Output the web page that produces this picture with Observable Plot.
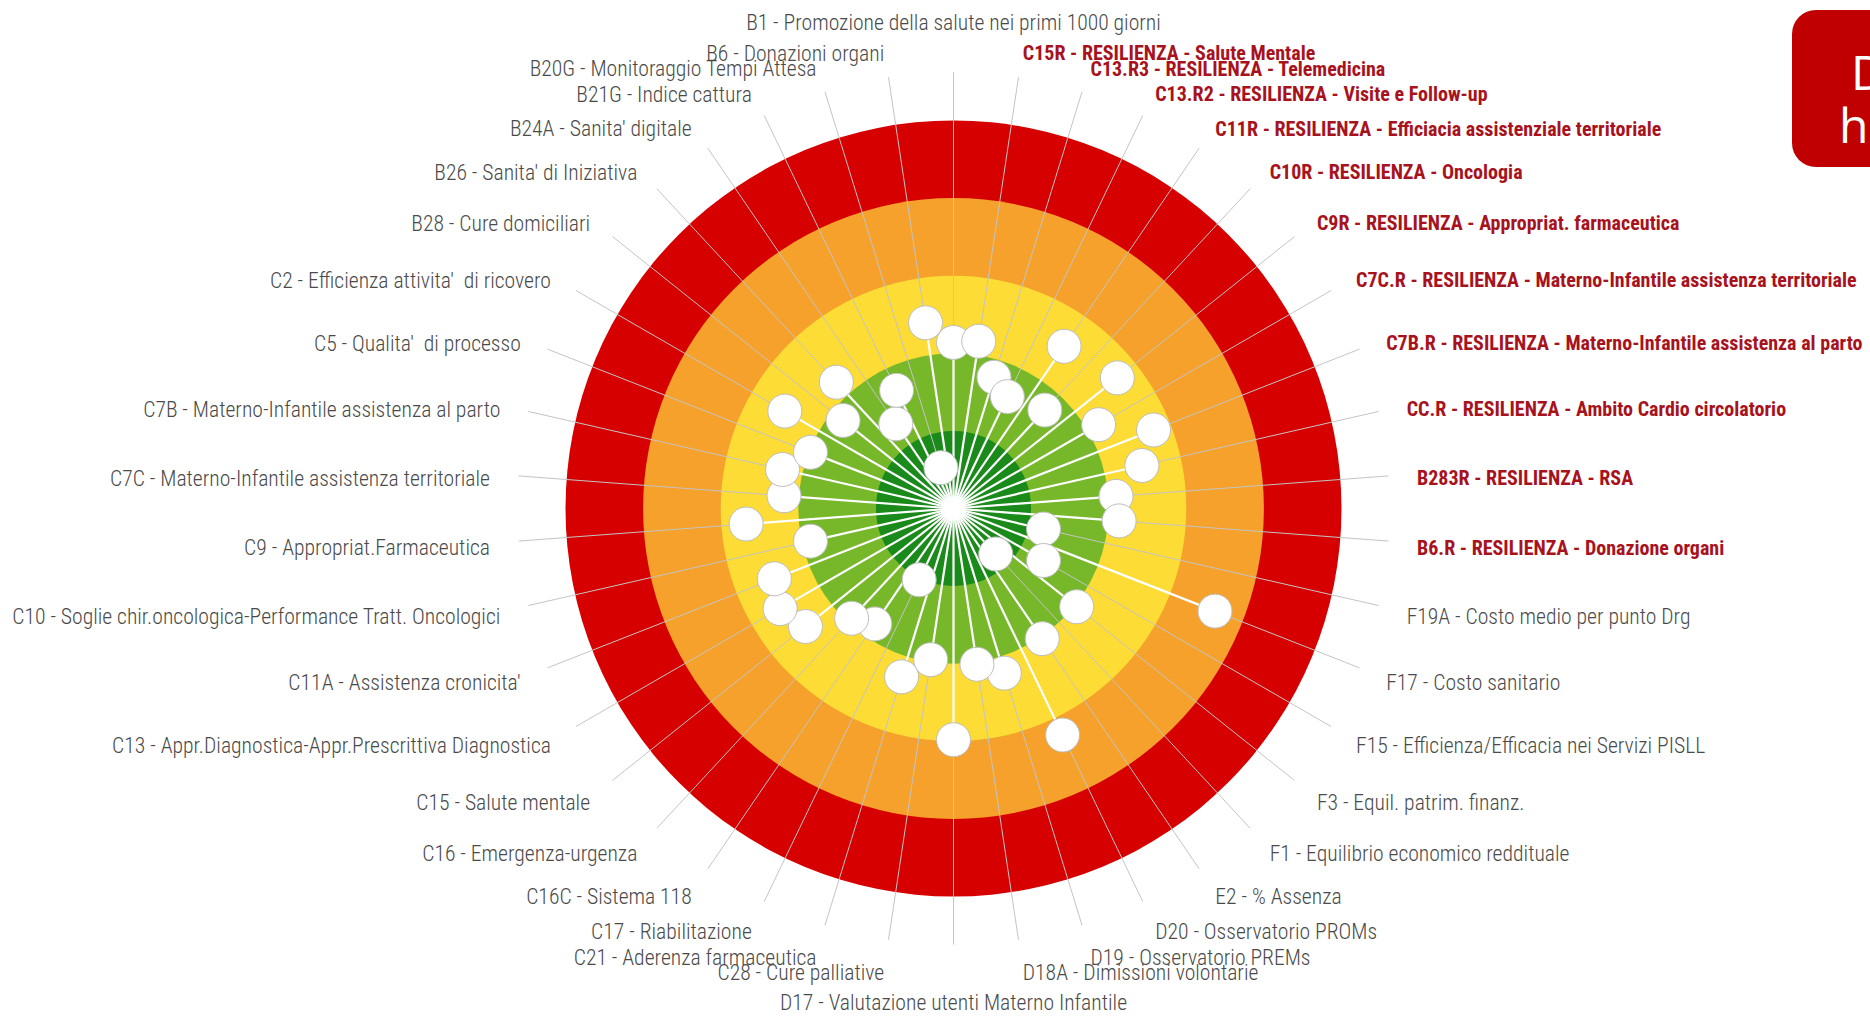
<!DOCTYPE html>
<html><head><meta charset="utf-8">
<script src="https://cdn.jsdelivr.net/npm/d3@7"></script>
<script src="https://cdn.jsdelivr.net/npm/@observablehq/plot@0.6"></script>
<style>
html,body{margin:0;padding:0;background:#fff;overflow:hidden;width:1870px;height:1017px;}
#chart{position:absolute;left:0;top:0;}
.box{position:absolute;left:1792px;top:10px;width:200px;height:157px;background:#c00000;border-radius:24px;color:#fff;font-family:"Open Sans",sans-serif;font-size:48px;line-height:52px;}
.box .l1{position:absolute;left:59px;top:36px;}
.box .l2{position:absolute;left:47px;top:89px;}
</style></head><body>
<div id="chart"></div>
<div class="box"><span class="l1">D</span><span class="l2">he</span></div>
<script>
// Indicators, clockwise from the top
const indicators = [
  "B1 - Promozione della salute nei primi 1000 giorni",
  "C15R - RESILIENZA - Salute Mentale",
  "C13.R3 - RESILIENZA - Telemedicina",
  "C13.R2 - RESILIENZA - Visite e Follow-up",
  "C11R - RESILIENZA - Efficiacia assistenziale territoriale",
  "C10R - RESILIENZA - Oncologia",
  "C9R - RESILIENZA - Appropriat. farmaceutica",
  "C7C.R - RESILIENZA - Materno-Infantile assistenza territoriale",
  "C7B.R - RESILIENZA - Materno-Infantile assistenza al parto",
  "CC.R - RESILIENZA - Ambito Cardio circolatorio",
  "B283R - RESILIENZA - RSA",
  "B6.R - RESILIENZA - Donazione organi",
  "F19A - Costo medio per punto Drg",
  "F17 - Costo sanitario",
  "F15 - Efficienza/Efficacia nei Servizi PISLL",
  "F3 - Equil. patrim. finanz.",
  "F1 - Equilibrio economico reddituale",
  "E2 - % Assenza",
  "D20 - Osservatorio PROMs",
  "D19 - Osservatorio PREMs",
  "D18A - Dimissioni volontarie",
  "D17 - Valutazione utenti Materno Infantile",
  "C28 - Cure palliative",
  "C21 - Aderenza farmaceutica",
  "C17 - Riabilitazione",
  "C16C - Sistema 118",
  "C16 - Emergenza-urgenza",
  "C15 - Salute mentale",
  "C13 - Appr.Diagnostica-Appr.Prescrittiva Diagnostica",
  "C11A - Assistenza cronicita'",
  "C10 - Soglie chir.oncologica-Performance Tratt. Oncologici",
  "C9 - Appropriat.Farmaceutica",
  "C7C - Materno-Infantile assistenza territoriale",
  "C7B - Materno-Infantile assistenza al parto",
  "C5 - Qualita'  di processo",
  "C2 - Efficienza attivita'  di ricovero",
  "B28 - Cure domiciliari",
  "B26 - Sanita' di Iniziativa",
  "B24A - Sanita' digitale",
  "B21G - Indice cattura",
  "B20G - Monitoraggio Tempi Attesa",
  "B6 - Donazioni organi"
];
// Scores 0 (outer edge, worst) .. 5 (centre, best)
const scores = [2.86, 2.82, 3.23, 3.40, 2.47, 3.27, 2.30, 2.84, 2.23, 2.51, 2.90, 2.86, 3.81, 1.38, 3.66, 2.97, 4.20, 2.97, 1.76, 2.78, 2.97, 2.02, 3.03, 2.73, 3.98, 3.20, 3.07, 2.56, 2.42, 2.52, 3.11, 2.32, 2.81, 2.74, 3.02, 2.49, 3.18, 2.78, 3.68, 3.31, 4.45, 2.58];
// Performance bands (lower bound of score) and their colours
const bandLower = [0, 1, 2, 3, 4];
const bandColors = ["#d60000", "#f5a12c", "#fcdc35", "#77b82a", "#1a8a1a"];

// pick a condensed font that is installed
const cands = ["Roboto Condensed", "DejaVu Sans Condensed", "Roboto"];
const cv = document.createElement("canvas").getContext("2d");
function avail(f){cv.font="40px monospace";const a=cv.measureText("abcdefghijklmnopqrstuvwxyz").width;cv.font=`40px "${f}", monospace`;const b=cv.measureText("abcdefghijklmnopqrstuvwxyz").width;return a!==b;}
const FONT = cands.find(avail) || "Roboto";
function fitSize(text, weight, target){cv.font=`${weight} 20px "${FONT}"`;return 20 * target / cv.measureText(text).width;}
const graySize = fitSize(indicators[0], "300", 415);
const redSize = fitSize(indicators[4], "bold", 446);

const N = indicators.length;
const W = 1870, H = 1017, CX = 953, CY = 508, OUTER = 388;
const U = OUTER / 5; // px per score unit
const SPOKE = 5.62, LABEL = 5.99;

const data = indicators.map((name, i) => {
  const a = i * 2 * Math.PI / N;
  const dist = 5 - scores[i];
  return {name, i, a, s: Math.sin(a), c: Math.cos(a), dist, red: /RESILIENZA/.test(name)};
});

const bands = bandLower.map((lo, k) => ({radius: 5 - lo, color: bandColors[k]}));

const labelMarks = [];
const groups = [
  {f: d => d.s > 0.01, anchor: "start", dy: 5},
  {f: d => d.s < -0.01, anchor: "end", dy: 5},
  {f: d => Math.abs(d.s) <= 0.01 && d.c > 0, anchor: "middle", dy: -21},
  {f: d => Math.abs(d.s) <= 0.01 && d.c < 0, anchor: "middle", dy: 30}
];
for (const g of groups) {
  for (const red of [false, true]) {
    labelMarks.push(Plot.text(data.filter(d => g.f(d) && d.red === red), {
      x: d => LABEL * d.s, y: d => LABEL * d.c, text: "name",
      textAnchor: g.anchor, dy: g.dy,
      fill: red ? "#a8121c" : "#4a4a4a",
      fontWeight: red ? "bold" : 300,
      fontSize: red ? redSize : graySize,
      fontFamily: FONT
    }));
  }
}

const chart = Plot.plot({
  width: W, height: H, margin: 0,
  x: {domain: [-CX / U, (W - CX) / U], axis: null},
  y: {domain: [-(H - CY) / U, CY / U], axis: null},
  r: {type: "linear", domain: [0, 5], range: [0, OUTER]},
  marks: [
    ...bands.map(b => Plot.dot([b], {x: () => 0, y: () => 0, r: "radius", fill: b.color, stroke: null})),
    Plot.link(data, {x1: () => 0, y1: () => 0, x2: d => SPOKE * d.s, y2: d => SPOKE * d.c, stroke: "#c4c4c4", strokeWidth: 1}),
    Plot.link(data, {x1: () => 0, y1: () => 0, x2: d => d.dist * d.s, y2: d => d.dist * d.c, stroke: "#ffffff", strokeWidth: 2.2}),
    Plot.dot([0], {x: () => 0, y: () => 0, r: 6, fill: "#ffffff", opacity: 0.8}),
    Plot.dot(data, {x: d => d.dist * d.s, y: d => d.dist * d.c, r: 17, fill: "#ffffff", stroke: "#bdbdbd", strokeWidth: 1}),
    ...labelMarks
  ]
});
document.getElementById("chart").appendChild(chart);
</script>
</body></html>
